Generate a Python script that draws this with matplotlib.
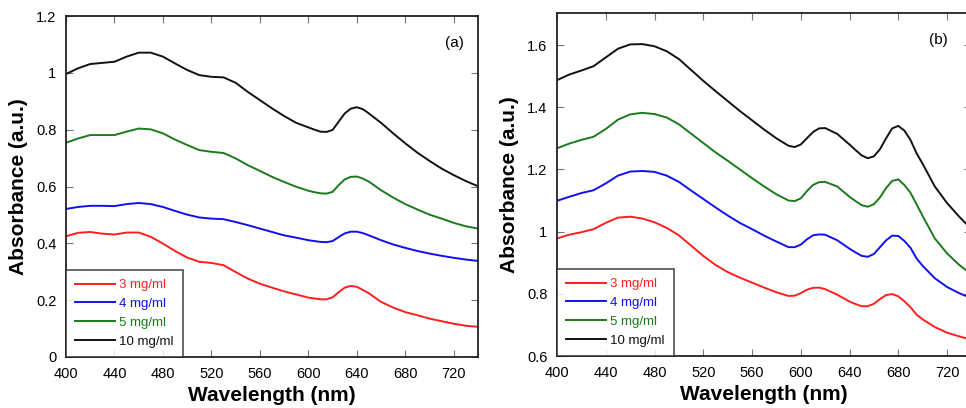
import matplotlib
matplotlib.use("Agg")
import matplotlib.pyplot as plt
from matplotlib.ticker import FuncFormatter

plt.rcParams['font.family'] = ['Liberation Sans', 'DejaVu Sans']

# ---------------- Data ----------------
wl_a = [400, 410, 420, 430, 440, 450, 460, 470, 480, 490, 500, 510, 520, 530, 540,
        550, 560, 570, 580, 590, 600, 605, 610, 615, 620, 625, 630, 635, 640, 645,
        650, 660, 670, 680, 690, 700, 710, 720, 730, 740]

a_10 = [0.996, 1.016, 1.031, 1.035, 1.039, 1.057, 1.071, 1.071, 1.057, 1.033, 1.010,
        0.992, 0.986, 0.984, 0.965, 0.933, 0.904, 0.875, 0.848, 0.824, 0.808, 0.800,
        0.793, 0.792, 0.799, 0.828, 0.857, 0.874, 0.879, 0.872, 0.857, 0.824, 0.787,
        0.752, 0.719, 0.690, 0.663, 0.640, 0.619, 0.601]
a_5 = [0.754, 0.769, 0.781, 0.781, 0.781, 0.793, 0.804, 0.801, 0.787, 0.765, 0.746,
       0.728, 0.722, 0.718, 0.699, 0.675, 0.655, 0.634, 0.616, 0.599, 0.585, 0.580,
       0.576, 0.575, 0.581, 0.605, 0.625, 0.634, 0.635, 0.628, 0.617, 0.587, 0.561,
       0.538, 0.519, 0.501, 0.487, 0.472, 0.460, 0.452]
a_4 = [0.521, 0.528, 0.532, 0.532, 0.531, 0.538, 0.542, 0.538, 0.528, 0.514, 0.501,
       0.491, 0.487, 0.485, 0.475, 0.464, 0.452, 0.440, 0.428, 0.420, 0.411, 0.408,
       0.405, 0.404, 0.408, 0.422, 0.435, 0.441, 0.441, 0.436, 0.428, 0.411, 0.396,
       0.384, 0.373, 0.364, 0.356, 0.349, 0.343, 0.338]
a_3 = [0.425, 0.437, 0.440, 0.434, 0.431, 0.438, 0.438, 0.423, 0.399, 0.373, 0.350,
       0.335, 0.331, 0.323, 0.299, 0.276, 0.258, 0.244, 0.231, 0.220, 0.209, 0.206,
       0.203, 0.203, 0.210, 0.228, 0.244, 0.250, 0.247, 0.236, 0.224, 0.194, 0.174,
       0.158, 0.147, 0.135, 0.126, 0.117, 0.110, 0.106]

wl_b = [400, 410, 420, 430, 440, 450, 460, 470, 480, 490, 500, 510, 520, 530, 540,
        550, 560, 570, 580, 590, 595, 600, 605, 610, 615, 620, 630, 640, 645, 650,
        655, 660, 665, 670, 675, 680, 685, 690, 695, 700, 710, 720, 730, 740]

b_10 = [1.487, 1.505, 1.518, 1.532, 1.560, 1.588, 1.602, 1.603, 1.596, 1.580, 1.555,
        1.520, 1.485, 1.452, 1.420, 1.388, 1.358, 1.328, 1.300, 1.276, 1.272, 1.280,
        1.300, 1.320, 1.332, 1.333, 1.314, 1.280, 1.262, 1.245, 1.236, 1.242, 1.265,
        1.300, 1.332, 1.340, 1.325, 1.295, 1.252, 1.218, 1.145, 1.092, 1.048, 1.008]
b_5 = [1.268, 1.283, 1.295, 1.305, 1.330, 1.360, 1.377, 1.382, 1.378, 1.367, 1.345,
       1.315, 1.285, 1.255, 1.228, 1.200, 1.172, 1.145, 1.120, 1.100, 1.098, 1.107,
       1.130, 1.150, 1.159, 1.160, 1.145, 1.112, 1.098, 1.085, 1.080, 1.088, 1.110,
       1.140, 1.163, 1.168, 1.150, 1.125, 1.088, 1.050, 0.978, 0.930, 0.893, 0.862]
b_4 = [1.099, 1.112, 1.124, 1.133, 1.155, 1.180, 1.193, 1.195, 1.192, 1.180, 1.160,
       1.132, 1.105, 1.078, 1.052, 1.028, 1.008, 0.987, 0.968, 0.950, 0.950, 0.958,
       0.975, 0.988, 0.991, 0.990, 0.972, 0.945, 0.933, 0.922, 0.919, 0.928, 0.950,
       0.972, 0.987, 0.986, 0.970, 0.948, 0.914, 0.890, 0.850, 0.822, 0.802, 0.786]
b_3 = [0.978, 0.990, 0.998, 1.008, 1.028, 1.045, 1.048, 1.042, 1.030, 1.012, 0.988,
       0.955, 0.922, 0.893, 0.870, 0.852, 0.836, 0.820, 0.805, 0.793, 0.794, 0.802,
       0.813, 0.819, 0.820, 0.815, 0.797, 0.775, 0.767, 0.760, 0.760, 0.768, 0.783,
       0.796, 0.799, 0.792, 0.776, 0.757, 0.733, 0.718, 0.693, 0.675, 0.663, 0.652]

labels = ['3 mg/ml', '4 mg/ml', '5 mg/ml', '10 mg/ml']
colors = ['#ff1f1f', '#1010ee', '#1b7a1b', '#111111']
x_ticks = [400, 440, 480, 520, 560, 600, 640, 680, 720]
y_ticks_a = [0, 0.2, 0.4, 0.6, 0.8, 1.0, 1.2]
y_ticks_b = [0.6, 0.8, 1.0, 1.2, 1.4, 1.6]

# ---------------- Figure ----------------
fig = plt.figure(figsize=(9.66, 4.08), dpi=100)
ax_a = fig.add_axes([66/966, 51/408, 412/966, 341/408])
ax_b = fig.add_axes([557/966, 52/408, 414.4/966, 343/408])

fmt = FuncFormatter(lambda v, p: ('%g' % round(v, 3)))


def style(ax, series, wl, ylim, yticks, tag, tagx):
    for ys, lab, c in zip(series, labels, colors):
        ax.plot(wl, ys, color=c, lw=1.4, label=lab)
    ax.set_xlim(400, 740)
    ax.set_ylim(*ylim)
    ax.set_xticks(x_ticks)
    ax.set_yticks(yticks)
    ax.yaxis.set_major_formatter(fmt)
    ax.tick_params(direction='in', top=True, right=True, length=5, width=0.8,
                   color='#777777', labelsize=10.5, pad=7)
    for s in ax.spines.values():
        s.set_linewidth(1.3)
        s.set_color('#222222')
    ax.set_xlabel('Wavelength (nm)', fontsize=15, fontweight='bold', labelpad=4)
    ax.set_ylabel('Absorbance (a.u.)', fontsize=15, fontweight='bold', labelpad=6)
    leg = ax.legend(loc='lower left', frameon=True, fancybox=False, borderaxespad=0,
                    fontsize=9.5, handlelength=3.0, handletextpad=0.3,
                    labelspacing=0.5, borderpad=0.7, edgecolor='#222222')
    leg.get_frame().set_linewidth(1.2)
    for t, c in zip(leg.get_texts(), colors):
        t.set_color(c)
    ax.text(tagx, 0.92, tag, transform=ax.transAxes,
            fontsize=11, ha='center', va='center')


style(ax_a, [a_3, a_4, a_5, a_10], wl_a, (0, 1.2), y_ticks_a, '(a)', 0.944)
style(ax_b, [b_3, b_4, b_5, b_10], wl_b, (0.6, 1.703), y_ticks_b, '(b)', 0.92)

fig.savefig('out.png', dpi=100)
